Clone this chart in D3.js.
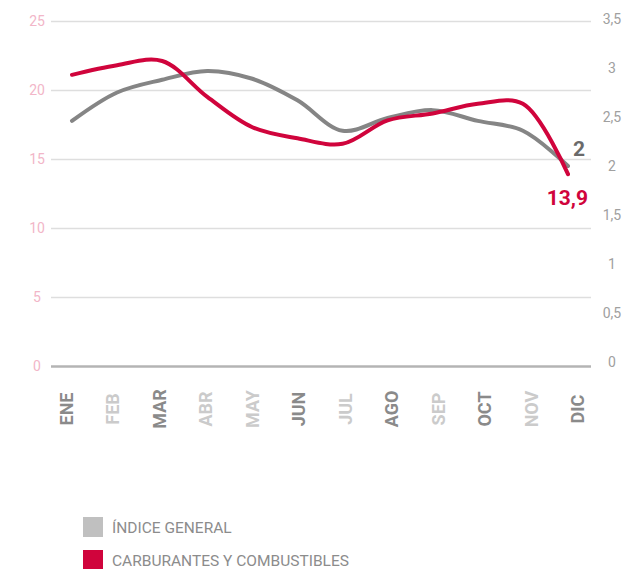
<!DOCTYPE html>
<html>
<head>
<meta charset="utf-8">
<script src="https://cdn.jsdelivr.net/npm/d3@7"></script>
<style>
  body { margin: 0; background: #fff; }
  svg text { font-family: Roboto, "Noto Sans", sans-serif; }
</style>
</head>
<body>
<svg class="chart" width="630" height="569"></svg>
<script>
var months = ["ENE","FEB","MAR","ABR","MAY","JUN","JUL","AGO","SEP","OCT","NOV","DIC"];
var monthDark = [true,false,true,false,false,true,false,true,false,true,false,true];
var indiceGeneral = [2.46,2.75,2.88,2.97,2.89,2.67,2.36,2.49,2.57,2.46,2.36,2.0];
var carburantes = [21.1,21.8,22.1,19.5,17.3,16.5,16.1,17.8,18.3,19.0,19.0,13.9];
var leftTicks = [0,5,10,15,20,25];
var rightTicks = [0,0.5,1,1.5,2,2.5,3,3.5];
var seriesNames = ["ÍNDICE GENERAL","CARBURANTES Y COMBUSTIBLES"];
var seriesColors = ["#c0c0c0","#d0043c"];
var lineColors = ["#858585","#d0043c"];

var chart = d3.select("svg.chart"),
    left = 51, right = 591;

var yLeft = d3.scaleLinear().domain([0,25]).range([366,21]),
    yRight = d3.scaleLinear().domain([0,3.5]).range([362,19]),
    xLine = d3.scalePoint().domain(months).range([72,568]),
    xLabel = d3.scalePoint().domain(months).range([66,577]);

// grid + left labels
var yAxisL = d3.axisLeft(yLeft).tickValues(leftTicks).tickSize(-(right-left)).tickPadding(7);
var gL = chart.append("g").attr("transform","translate("+left+",0)").call(yAxisL);
gL.select(".domain").remove();
gL.selectAll(".tick line").attr("stroke", function(d){ return d===0 ? "#b4b4b4" : "#dedede"; })
  .attr("stroke-width", function(d){ return d===0 ? 2.5 : 1.5; });
gL.selectAll(".tick text").attr("fill","#f2b6c8").attr("font-size","14px")
  .attr("text-anchor","middle").attr("x",-14).attr("font-family","Roboto, sans-serif");

// right labels
var yAxisR = d3.axisRight(yRight).tickValues(rightTicks).tickSize(0)
  .tickFormat(function(d){ return String(d).replace(".",","); });
var gR = chart.append("g").attr("transform","translate(612,0)").call(yAxisR);
gR.select(".domain").remove();
gR.selectAll(".tick text").attr("fill","#a0a0a0").attr("font-size","14px")
  .attr("text-anchor","middle").attr("x",0).attr("font-family","Roboto, sans-serif");

// month labels
var xAxis = d3.axisBottom(xLabel).tickSize(0);
var gX = chart.append("g").attr("transform","translate(0,409)").call(xAxis);
gX.select(".domain").remove();
gX.selectAll(".tick text")
  .attr("transform","rotate(-90)")
  .attr("y",0).attr("x",0).attr("dy","0.36em")
  .attr("text-anchor","middle")
  .attr("font-size","18px").attr("font-weight","bold")
  .attr("font-family","Roboto, sans-serif")
  .attr("fill", function(d,i){ return monthDark[i] ? "#8a8a8a" : "#cbcbcb"; });

// lines
var lineG = d3.line().x(function(d,i){ return xLine(months[i]); })
  .y(function(d){ return yRight(d); }).curve(d3.curveCatmullRom.alpha(0.5));
var lineC = d3.line().x(function(d,i){ return xLine(months[i]); })
  .y(function(d){ return yLeft(d); }).curve(d3.curveCatmullRom.alpha(0.5));

chart.append("path").attr("d", lineG(indiceGeneral))
  .attr("fill","none").attr("stroke",lineColors[0]).attr("stroke-width",4)
  .attr("stroke-linecap","round").attr("stroke-linejoin","round");
chart.append("path").attr("d", lineC(carburantes))
  .attr("fill","none").attr("stroke",lineColors[1]).attr("stroke-width",4)
  .attr("stroke-linecap","round").attr("stroke-linejoin","round");

// end labels
chart.append("text").attr("x",585).attr("y",yRight(indiceGeneral[11]) - 10)
  .attr("text-anchor","end").attr("font-size","21px").attr("font-weight","bold")
  .attr("fill","#6a6a6a").text(String(indiceGeneral[11]).replace(".",","));
chart.append("text").attr("x",588).attr("y",yLeft(carburantes[11]) + 31)
  .attr("text-anchor","end").attr("font-size","21px").attr("font-weight","bold")
  .attr("fill","#d0043c").text(String(carburantes[11]).replace(".",","));

// legend
var leg = chart.selectAll("g.legend").data(seriesNames).enter().append("g")
  .attr("class","legend")
  .attr("transform", function(d,i){ return "translate(83,"+(517 + i*33)+")"; });
leg.append("rect").attr("width",20).attr("height",20)
  .attr("fill", function(d,i){ return seriesColors[i]; });
leg.append("text").attr("x",29).attr("y",16).attr("font-size","15.5px")
  .attr("fill","#8c8c8c").text(function(d){ return d; });
</script>
</body>
</html>
